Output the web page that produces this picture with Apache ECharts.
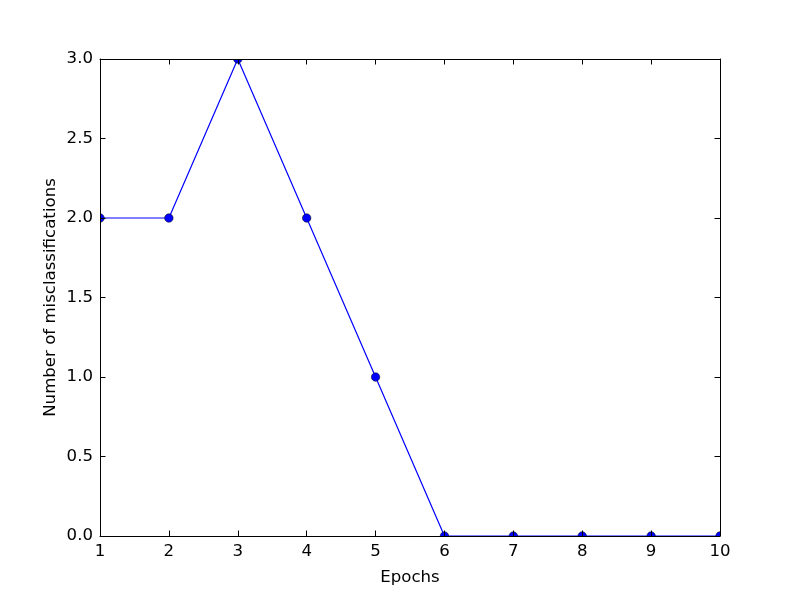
<!DOCTYPE html>
<html>
<head>
<meta charset="utf-8">
<script src="https://cdn.jsdelivr.net/npm/echarts@6/dist/echarts.min.js"></script>
<style>html,body{margin:0;padding:0;background:#fff}#c{width:800px;height:596px}</style>
</head>
<body>
<div id="c"></div>
<script>
const epochs = [1, 2, 3, 4, 5, 6, 7, 8, 9, 10];
const misclassifications = [2, 2, 3, 2, 1, 0, 0, 0, 0, 0];
const xLabel = 'Epochs';
const yLabel = 'Number of misclassifications';

const chart = echarts.init(document.getElementById('c'));
const FONT = 'DejaVu Sans';
const FS = 16.6;
const tick = {show: true, inside: true, length: 5.5, lineStyle: {color: '#000', width: 1}};
const line = {show: true, onZero: false, lineStyle: {color: '#000', width: 1}};
const L = 100, R = 720, T = 59, B = 536;
chart.setOption({
  animation: false,
  textStyle: {fontFamily: FONT},
  grid: {left: L, right: 800 - R, top: T, bottom: 596 - B, show: false},
  graphic: [
    {type: 'rect', z: 50, shape: {x: 0, y: 0, width: 800, height: T}, style: {fill: '#fff'}, silent: true},
    {type: 'rect', z: 50, shape: {x: 0, y: B, width: 800, height: 596 - B}, style: {fill: '#fff'}, silent: true},
    {type: 'rect', z: 50, shape: {x: 0, y: 0, width: L, height: 596}, style: {fill: '#fff'}, silent: true},
    {type: 'rect', z: 50, shape: {x: R, y: 0, width: 800 - R, height: 596}, style: {fill: '#fff'}, silent: true}
  ],
  xAxis: [{
    type: 'value', min: 1, max: 10, interval: 1, position: 'bottom', z: 60,
    axisLine: line, axisTick: tick, splitLine: {show: false},
    axisLabel: {color: '#000', fontSize: FS, margin: 7, fontFamily: FONT},
    name: xLabel, nameLocation: 'middle', nameGap: 33, nameMoveOverlap: false,
    nameTextStyle: {color: '#000', fontSize: FS, fontFamily: FONT}
  }, {
    type: 'value', min: 1, max: 10, interval: 1, position: 'top', z: 60,
    axisLine: line, axisTick: tick, splitLine: {show: false}, axisLabel: {show: false}
  }],
  yAxis: [{
    type: 'value', min: 0, max: 3, interval: 0.5, position: 'left', z: 60,
    axisLine: line, axisTick: tick, splitLine: {show: false},
    axisLabel: {color: '#000', fontSize: FS, margin: 7, fontFamily: FONT, formatter: v => v.toFixed(1)},
    name: yLabel, nameLocation: 'middle', nameGap: 41, nameMoveOverlap: false,
    nameTextStyle: {color: '#000', fontSize: FS, fontFamily: FONT}
  }, {
    type: 'value', min: 0, max: 3, interval: 0.5, position: 'right', z: 60,
    axisLine: line, axisTick: tick, splitLine: {show: false}, axisLabel: {show: false}
  }],
  series: [{
    type: 'line',
    data: epochs.map((e, i) => [e, misclassifications[i]]),
    symbol: 'circle', symbolSize: 8.5, showAllSymbol: true, clip: false,
    lineStyle: {color: '#0000ff', width: 1.2},
    itemStyle: {color: '#0000ff', borderColor: '#000', borderWidth: 0.5},
    z: 2
  }]
});
</script>
</body>
</html>
